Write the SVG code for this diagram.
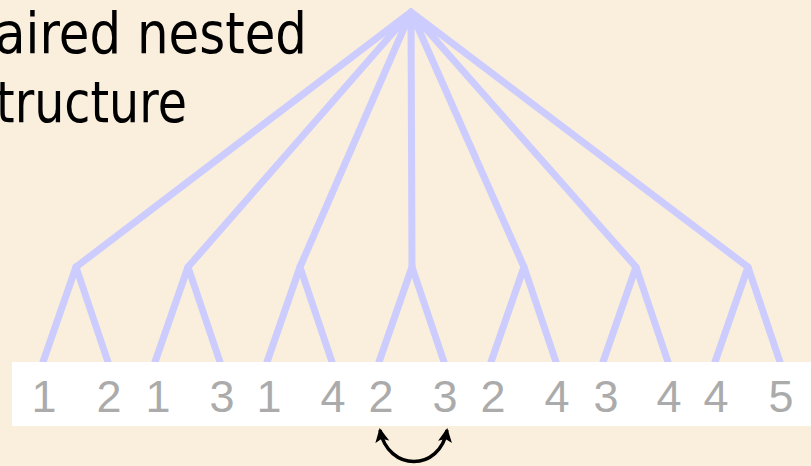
<svg xmlns="http://www.w3.org/2000/svg" width="811" height="466" viewBox="0 0 811 466">
<defs>
<style>
.edge{stroke:#CCCCFF;stroke-width:7;fill:none;stroke-linecap:round;stroke-linejoin:round}
.title{font-family:"DejaVu Sans","Liberation Sans",sans-serif;font-size:57px;fill:#000}
.leaf{font-family:"Liberation Sans",Arial,sans-serif;font-size:45px;fill:#ABABAB;text-anchor:middle}
</style>
<marker id="ah" markerWidth="14" markerHeight="14" refX="12" refY="7" orient="auto-start-reverse" markerUnits="userSpaceOnUse">
<path d="M0,0 L14,7 L0,14 L3,7 Z" fill="#000"/>
</marker>
</defs>
<rect width="811" height="466" fill="#FAEEDD"/>
<g id="title">
<text class="title" x="307" y="53" text-anchor="end" textLength="312" lengthAdjust="spacingAndGlyphs">aired nested</text>
<text class="title" x="187" y="122" text-anchor="end" textLength="191" lengthAdjust="spacingAndGlyphs">tructure</text>
</g>
<g id="connectors">
<path class="edge" d="M411,12 L76,267 M411,12 L188,267 M411,12 L300,267 M411,12 L412,267 M411,12 L524,267 M411,12 L636,267 M411,12 L748,267"/>
<path class="edge" d="M43,362 L76,267 L108,362 M155,362 L188,267 L220,362 M267,362 L300,267 L332,362 M379,362 L412,267 L444,362 M491,362 L524,267 L556,362 M603,362 L636,267 L668,362 M715,362 L748,267 L780,362"/>
</g>
<rect id="band" x="12" y="362" width="799" height="64" fill="#FFFFFF"/>
<g id="leaves">
<text class="leaf" x="44" y="412">1</text>
<text class="leaf" x="109" y="412">2</text>
<text class="leaf" x="158" y="412">1</text>
<text class="leaf" x="222" y="412">3</text>
<text class="leaf" x="269" y="412">1</text>
<text class="leaf" x="333" y="412">4</text>
<text class="leaf" x="381" y="412">2</text>
<text class="leaf" x="445" y="412">3</text>
<text class="leaf" x="493" y="412">2</text>
<text class="leaf" x="557" y="412">4</text>
<text class="leaf" x="606" y="412">3</text>
<text class="leaf" x="669" y="412">4</text>
<text class="leaf" x="716" y="412">4</text>
<text class="leaf" x="781" y="412">5</text>
</g>
<g id="swap">
<path d="M380,430 C388,472 440,472 447,430" fill="none" stroke="#000" stroke-width="3.5" marker-start="url(#ah)" marker-end="url(#ah)"/>
</g>
</svg>
